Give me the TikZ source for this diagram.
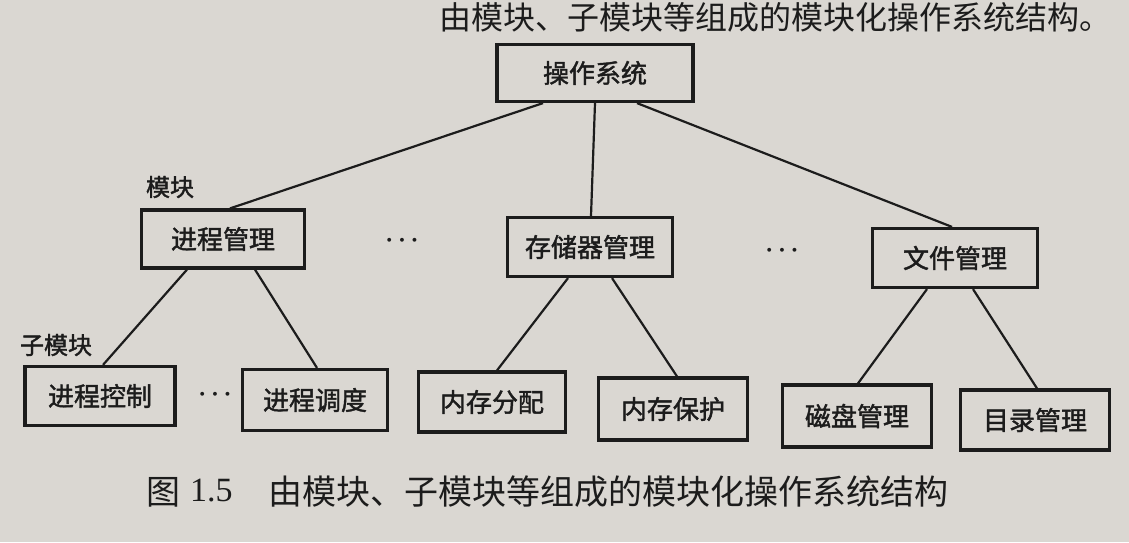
\documentclass[tikz,border=0pt]{standalone}
\usepackage{fontspec}
\newfontfamily\cjk[AutoFakeBold=1.6]{Noto Sans CJK SC}
\newfontfamily\latser{Liberation Serif}
\definecolor{paper}{RGB}{218,215,210}
\definecolor{ink}{RGB}{28,28,28}
\begin{document}
\begin{tikzpicture}[x=1pt,y=-1pt,
  box/.style={draw=ink, line width=3.2pt, inner sep=0pt, text=ink,
    font=\cjk\bfseries\fontsize{26}{26}\selectfont},
  link/.style={draw=ink, line width=2.2pt},
  lbl/.style={text=ink, inner sep=0pt, font=\cjk\bfseries\fontsize{24}{24}\selectfont},
  dotsl/.style={text=ink, inner sep=0pt, font=\fontsize{26}{26}\selectfont\boldmath},
  capt/.style={text=ink, inner sep=0pt, font=\cjk\fontsize{34}{34}\selectfont}]
\fill[paper] (0,0) rectangle (1129,542);
\useasboundingbox (0,0) rectangle (1129,542);
\node[capt, anchor=east, font=\cjk\fontsize{32}{32}\selectfont] (toptext) at (1112,17) {由模块、子模块等组成的模块化操作系统结构。};
% boxes
\node[box, minimum width=196pt, minimum height=57pt] (os) at (595,73) {操作系统};
\node[box, minimum width=163pt, minimum height=58pt] (pm) at (223,239) {进程管理};
\node[box, minimum width=165pt, minimum height=59pt] (sm) at (590,247) {存储器管理};
\node[box, minimum width=165pt, minimum height=59pt] (fm) at (955,258) {文件管理};
\node[box, minimum width=150pt, minimum height=59pt] (pc) at (100,396) {进程控制};
\node[box, minimum width=145pt, minimum height=61pt] (ps) at (315,400) {进程调度};
\node[box, minimum width=147pt, minimum height=60pt] (ma) at (492,402) {内存分配};
\node[box, minimum width=149pt, minimum height=62pt] (mp) at (673,409) {内存保护};
\node[box, minimum width=149pt, minimum height=62pt] (dm) at (857,416) {磁盘管理};
\node[box, minimum width=149pt, minimum height=60pt] (dir) at (1035,420) {目录管理};
% labels
\node[lbl] (lmod) at (170,187) {模块};
\node[lbl] (lsub) at (56,345) {子模块};
\node[dotsl] (d1) at (402,241) {$\cdots$};
\node[dotsl] (d2) at (782,251) {$\cdots$};
\node[dotsl] (d3) at (215,395) {$\cdots$};
% connectors
\draw[link] ([xshift=-52pt]os.south) -- ([xshift=7pt]pm.north);
\draw[link] (os.south) -- ([xshift=1pt]sm.north);
\draw[link] ([xshift=42pt]os.south) -- ([xshift=-3pt]fm.north);
\draw[link] ([xshift=-36pt]pm.south) -- ([xshift=3pt]pc.north);
\draw[link] ([xshift=32pt]pm.south) -- ([xshift=2pt]ps.north);
\draw[link] ([xshift=-22pt]sm.south) -- ([xshift=5pt]ma.north);
\draw[link] ([xshift=22pt]sm.south) -- ([xshift=4pt]mp.north);
\draw[link] ([xshift=-28pt]fm.south) -- ([xshift=1pt]dm.north);
\draw[link] ([xshift=18pt]fm.south) -- ([xshift=2pt]dir.north);
% caption
\node[capt, anchor=west] (capfig) at (146,492) {图};
\node[text=ink, inner sep=0pt, anchor=west, font=\latser\fontsize{34}{34}\selectfont] (capnum) at (190,491) {1.5};
\node[capt, anchor=west] (captext) at (268,492) {由模块、子模块等组成的模块化操作系统结构};
\end{tikzpicture}
\end{document}
